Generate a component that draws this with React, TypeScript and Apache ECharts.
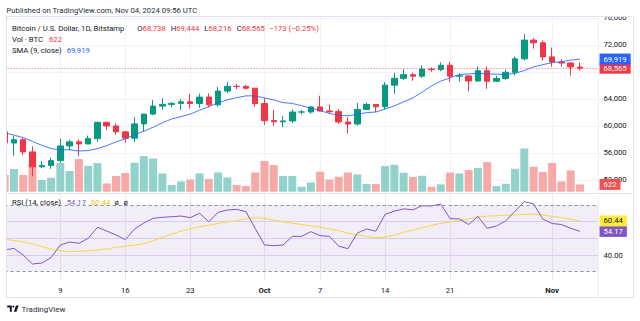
import React, { useEffect, useRef } from "react";
import * as echarts from "echarts";

const dates = [
  "09-03","09-04","09-05","09-06","09-07","09-08","09-09","09-10","09-11","09-12","09-13","09-14","09-15","09-16",
  "09-17","09-18","09-19","09-20","09-21","09-22","09-23","09-24","09-25","09-26","09-27","09-28","09-29","09-30",
  "10-01","10-02","10-03","10-04","10-05","10-06","10-07","10-08","10-09","10-10","10-11","10-12","10-13","10-14",
  "10-15","10-16","10-17","10-18","10-19","10-20","10-21","10-22","10-23","10-24","10-25","10-26","10-27","10-28",
  "10-29","10-30","10-31","11-01","11-02","11-03","11-04","11-05","11-06",
];

const opens = [
  59130,57480,57970,56160,53950,54160,54870,57050,57650,57340,58130,60540,60000,59130,
  58200,60310,61760,62950,63200,63350,63580,63330,64280,63140,65180,65880,65860,65600,
  63330,60800,60630,60750,62070,62080,62820,62230,62130,60590,60290,62460,63190,62850,
  66050,67060,67600,67380,68430,68360,69010,67380,67420,66670,68190,66630,67040,67960,
  69950,72730,72320,70240,69470,69330,68738,
];
const highs = [
  59810,58500,58300,56980,54850,55300,58100,58000,57990,58580,60650,60640,60380,59200,
  61320,61800,63860,64100,63550,64000,64750,64800,64820,65800,66500,66260,66080,65630,
  64130,62390,61480,62480,62370,62970,64480,63200,62500,61300,63400,63450,63280,66500,
  67900,68420,67900,68970,68690,69420,69490,67830,67470,68820,68790,67440,68370,70300,
  73600,72990,72670,71620,69900,69450,69444,
];
const lows = [
  57420,55600,55700,52550,53750,53650,54600,56400,55550,57330,57650,59450,58700,57500,
  57620,59200,61600,62400,62760,62370,62600,62700,62750,62870,64850,65450,65430,62860,
  60170,60000,59830,60460,61690,61840,62150,61850,60300,58900,60070,62420,62050,62450,
  64800,66800,66700,67140,68030,68120,66530,66580,65100,66560,65500,66500,66800,67500,
  69700,71450,69700,68780,68790,67470,68216,
];
const closes = [
  57480,57970,56160,53950,54160,54870,57050,57650,57340,58130,60540,60000,59130,58200,
  60310,61760,62950,63200,63350,63580,63330,64280,63140,65180,65880,65860,65600,63330,
  60800,60630,60750,62070,62080,62820,62230,62130,60590,60290,62460,63190,62850,66050,
  67060,67600,67380,68430,68360,69010,67380,67420,66670,68190,66630,67040,67960,69950,
  72730,72320,70240,69470,69330,68740,68565,
];
const volumes = [
  1420,1930,1420,2355,995,1190,2465,1760,2780,2210,2440,705,1335,1590,
  2465,3035,2830,1555,570,875,1045,1555,1080,1640,1215,570,485,1640,
  2610,2270,1335,1335,425,790,1700,1045,1275,1640,1470,655,655,2185,
  2295,1615,1250,1360,425,620,1640,1555,1845,2015,2525,485,680,1955,
  3680,2125,1675,2440,875,1810,622,
];
const sma9 = [
  59000,58644,58282,57719,57140,56668,56454,56491,56292,56364,56650,57077,57652,58101,
  58706,59229,59818,60469,61049,61387,61757,62329,62878,63419,63877,64200,64467,64464,
  64156,63856,63463,63344,63000,62660,62257,61871,61567,61510,61713,61984,62071,62512,
  62983,63580,64163,65034,65931,66659,67124,67632,67701,67827,67719,67681,67629,67806,
  68219,68768,69081,69392,69519,69753,69919,
];
const rsi = [
  43,44,40,34.6,35.2,38.4,46,47.8,47,50,56.6,54.4,52,49.2,
  55.6,59.2,62,62.6,63,63.4,62.4,65,60,65.6,67,67.4,66,56,
  46,45.6,46,51.2,51.2,54,51.6,51.2,45.3,43.8,53.1,55.6,54.3,64.4,
  66.3,67.7,67.1,69.6,69.4,70.6,61.8,61.7,58.3,63.2,56,57.4,60.5,66.3,
  72,70.6,61.5,58.9,58.3,56,54.17,
];
const rsiMa = [
  49.4,48.7,48.0,46.6,45.0,43.6,42.5,42.1,42.2,42.5,43.0,43.7,44.6,45.4,
  45.9,46.8,48.6,50.5,52.5,54.3,55.7,56.9,57.8,59.0,59.8,60.7,61.7,62.4,
  61.9,61.0,59.9,59.1,58.3,57.5,56.7,55.7,54.6,53.2,52.1,51.2,50.4,50.7,
  52.0,53.6,55.0,56.4,57.7,59.0,59.9,60.7,61.6,62.9,63.3,63.5,63.9,64.1,
  64.4,64.5,64.0,63.2,62.4,61.4,60.44,
];

const tickDates = ["09-09","09-16","09-23","10-01","10-07","10-14","10-21","11-01"];
const tickLabels = ["9","16","23","Oct","7","14","21","Nov"];
const priceGridTicks = [52000,56000,60000,64000,68000,72000,76000];
const priceLabelTicks = [52000,56000,60000,64000,72000,76000];
const rsiGridTicks = [40,50,60];
const rsiLabelTicks = [40];

const FONT = "Roboto, 'Noto Sans', sans-serif";
const DARK = "#131722";
const UP = "#089981";
const DOWN = "#f23645";
const VOL_UP = "#92d2cc";
const VOL_DOWN = "#f7a9a7";
const GRIDC = "#f0f3fa";
const GL = 4.64;
const GW = 593.9;
const HIDDEN_LINE = { width: 1, color: "rgba(0,0,0,0)", type: "solid" };

const fmt = (v: number) => v.toLocaleString("en-US");

function txt(x: number, y: number, text: string, fill: string, size = 7.7, extra: any = {}) {
  return {
    type: "text", x, y, z: 110,
    style: { text, fill, font: `${size}px ${FONT}`, verticalAlign: "middle", ...extra },
  };
}
function rtxt(x: number, y: number, text: string, size = 7.7, rich: any = {}) {
  return {
    type: "text", x, y, z: 110,
    style: {
      text, font: `${size}px ${FONT}`, verticalAlign: "middle", fill: DARK,
      rich: {
        d: { fill: DARK, fontSize: size, fontFamily: FONT },
        r: { fill: DOWN, fontSize: size, fontFamily: FONT },
        ...rich,
      },
    },
  };
}

function buildOption() {
  const n = closes.length;
  const candle = [];
  const vol = [];
  for (let i = 0; i < n; i++) {
    candle.push([opens[i], closes[i], lows[i], highs[i]]);
    vol.push({ value: volumes[i], itemStyle: { color: closes[i] >= opens[i] ? VOL_UP : VOL_DOWN } });
  }
  const last = n - 1;
  const isTick = (_i: number, v: string) => tickDates.indexOf(v) >= 0;
  const endLabel = (bg: string, color: string, text: string) => ({
    show: true, position: "end", distance: 1, formatter: text,
    backgroundColor: bg, color, fontSize: 7.7, fontFamily: FONT,
    padding: [2, 4, 1, 4], lineHeight: 8,
  });
  const catAxis = (gridIndex: number, extra: any) => ({
    type: "category", gridIndex, data: dates, boundaryGap: false,
    axisLine: { show: false }, axisTick: { show: false }, axisLabel: { show: false },
    splitLine: { show: false }, ...extra,
  });

  return {
    animation: false,
    textStyle: { fontFamily: FONT },
    grid: [
      { left: GL, top: 17, width: GW, height: 176 },
      { left: GL, top: 121.3, width: GW, height: 70.4 },
      { left: GL, top: 194, width: GW, height: 86 },
    ],
    xAxis: [
      catAxis(0, { splitLine: { show: true, interval: isTick, lineStyle: { color: GRIDC, width: 1 } } }),
      catAxis(1, {}),
      catAxis(2, {
        splitLine: { show: true, interval: isTick, lineStyle: { color: "#ece8f4", width: 1 } },
        axisLabel: {
          show: true, interval: isTick, margin: 6, fontSize: 7.7, color: DARK, fontFamily: FONT,
          formatter: (v: string) => {
            const k = tickDates.indexOf(v);
            const t = k >= 0 ? tickLabels[k] : "";
            return /^[A-Z]/.test(t) ? `{b|${t}}` : t;
          },
          rich: { b: { fontWeight: "bold", fontSize: 7.7, color: DARK, fontFamily: FONT } },
        },
      }),
    ],
    yAxis: [
      {
        type: "value", gridIndex: 0, position: "right", min: 50074, max: 76148,
        axisLine: { show: false },
        axisTick: { show: false, customValues: priceGridTicks },
        axisLabel: { customValues: priceLabelTicks, formatter: (v: number) => fmt(v), fontSize: 7.7, color: DARK, margin: 5, fontFamily: FONT },
        splitLine: { show: true, lineStyle: { color: GRIDC, width: 1 } },
      },
      { type: "value", gridIndex: 1, min: 0, max: 6000, show: false },
      {
        type: "value", gridIndex: 2, position: "right", min: 25, max: 76.6,
        axisLine: { show: false },
        axisTick: { show: false, customValues: rsiGridTicks },
        axisLabel: { customValues: rsiLabelTicks, formatter: (v: number) => v.toFixed(2), fontSize: 7.7, color: DARK, margin: 5, fontFamily: FONT },
        splitLine: { show: true, lineStyle: { color: "#e2dcef", width: 1 } },
      },
    ],
    series: [
      {
        type: "bar", name: "Vol", xAxisIndex: 1, yAxisIndex: 1, data: vol, barWidth: 8, z: 1, silent: true,
        markLine: {
          silent: true, symbol: "none", z: 20,
          data: [{ yAxis: volumes[last], lineStyle: HIDDEN_LINE, label: endLabel("#ef5350", "#fff", fmt(volumes[last])) }],
        },
      },
      {
        type: "candlestick", name: "BTCUSD", xAxisIndex: 0, yAxisIndex: 0, data: candle, barWidth: 6, z: 3, silent: true,
        itemStyle: { color: UP, color0: DOWN, borderColor: UP, borderColor0: DOWN, borderWidth: 1 },
        markLine: {
          silent: true, symbol: "none",
          data: [{
            yAxis: closes[last],
            lineStyle: { type: [1, 2], color: "rgba(242,54,69,0.75)", width: 1 },
            label: endLabel(DOWN, "#fff", fmt(closes[last])),
          }],
        },
      },
      {
        type: "line", name: "SMA", xAxisIndex: 0, yAxisIndex: 0, data: sma9, showSymbol: false, z: 4, silent: true,
        lineStyle: { color: "#2962ff", width: 1, opacity: 0.85 },
        markLine: {
          silent: true, symbol: "none",
          data: [{
            yAxis: sma9[last],
            lineStyle: HIDDEN_LINE,
            label: endLabel("#2962ff", "#fff", fmt(sma9[last])),
          }],
        },
      },
      {
        type: "line", name: "RSI", xAxisIndex: 2, yAxisIndex: 2, data: rsi, showSymbol: false, z: 4, silent: true,
        lineStyle: { color: "#7e57c2", width: 1 },
        markArea: {
          silent: true,
          itemStyle: { color: "rgba(126,87,194,0.1)" },
          data: [[{ yAxis: 70 }, { yAxis: 30 }]],
        },
        markLine: {
          silent: true, symbol: "none",
          data: [
            { yAxis: 70, lineStyle: { type: [3, 3], color: "#8d8f98", width: 1 }, label: { show: false } },
            { yAxis: 30, lineStyle: { type: [3, 3], color: "#8d8f98", width: 1 }, label: { show: false } },
            { yAxis: rsi[last], lineStyle: HIDDEN_LINE, label: endLabel("#7e57c2", "#fff", rsi[last].toFixed(2)) },
          ],
        },
      },
      {
        type: "line", name: "RSI MA", xAxisIndex: 2, yAxisIndex: 2, data: rsiMa, showSymbol: false, z: 3, silent: true,
        lineStyle: { color: "#f5d742", width: 1 },
        markLine: {
          silent: true, symbol: "none",
          data: [{ yAxis: rsiMa[last], lineStyle: HIDDEN_LINE, label: endLabel("#ffeb3b", DARK, rsiMa[last].toFixed(2)) }],
        },
      },
    ],
    graphic: [
      { type: "rect", z: 100, shape: { x: 0, y: 0, width: 6.5, height: 321 }, style: { fill: "#fff" } },
      { type: "rect", z: 100, shape: { x: 540, y: 0, width: 100, height: 16.5 }, style: { fill: "#fff" } },
      { type: "rect", z: 105, shape: { x: 6.5, y: 16.5, width: 627, height: 281 }, style: { fill: "none", stroke: "#e0e3eb", lineWidth: 1 } },
      { type: "line", z: 105, shape: { x1: 6.5, y1: 193.5, x2: 633.5, y2: 193.5 }, style: { stroke: "#e0e3eb", lineWidth: 1 } },
      { type: "line", z: 105, shape: { x1: 598.5, y1: 16.5, x2: 598.5, y2: 297.5 }, style: { stroke: "#eef0f4", lineWidth: 1 } },
      txt(6.5, 10, "Published on TradingView.com, Nov 04, 2024 09:56 UTC", "#2a2e39", 7.7),
      txt(12, 28.3, "Bitcoin / U.S. Dollar, 1D, Bitstamp", DARK),
      rtxt(137.3, 28.3, "{d|O}{r|68,738}"),
      rtxt(170.7, 28.3, "{d|H}{r|69,444}"),
      rtxt(204.3, 28.3, "{d|L}{r|68,216}"),
      rtxt(236.7, 28.3, "{d|C}{r|68,565}"),
      txt(269.3, 28.3, "\u2212173 (\u22120.25%)", DOWN),
      txt(12, 39, "Vol \u00b7 BTC", DARK),
      txt(49, 39, "622", DOWN),
      txt(12, 50.5, "SMA (9, close)", DARK),
      txt(66.7, 50.5, "69,919", "#2962ff"),
      txt(12, 202.5, "RSI (14, close)", DARK),
      txt(66.7, 202.5, "54.17", "#7e57c2"),
      txt(91, 202.5, "60.44", "#e8c400"),
      txt(114.5, 202.5, "\u00f8", DARK),
      txt(123.5, 202.5, "\u00f8", DARK),
      { type: "polygon", z: 110, shape: { points: [[7.2, 305.6], [11.8, 305.6], [11.8, 311.8], [9.8, 311.8], [9.8, 307.4], [7.2, 307.4]] }, style: { fill: DARK } },
      { type: "circle", z: 110, shape: { cx: 13.4, cy: 306.6, r: 1.1 }, style: { fill: DARK } },
      { type: "polygon", z: 110, shape: { points: [[16.0, 305.6], [18.6, 305.6], [16.4, 311.8], [13.8, 311.8]] }, style: { fill: DARK } },
      txt(21.5, 309, "TradingView", "#2a2e39", 8),
    ],
  };
}

export default function App() {
  const ref = useRef<HTMLDivElement>(null);
  useEffect(() => {
    if (!ref.current) return;
    const chart = echarts.init(ref.current, null, { renderer: "svg" });
    chart.setOption(buildOption() as any);
    return () => chart.dispose();
  }, []);
  return (
    <div
      ref={ref}
      style={{ position: "absolute", left: 0, top: 0, width: 640, height: 321, background: "#fff" }}
    />
  );
}
